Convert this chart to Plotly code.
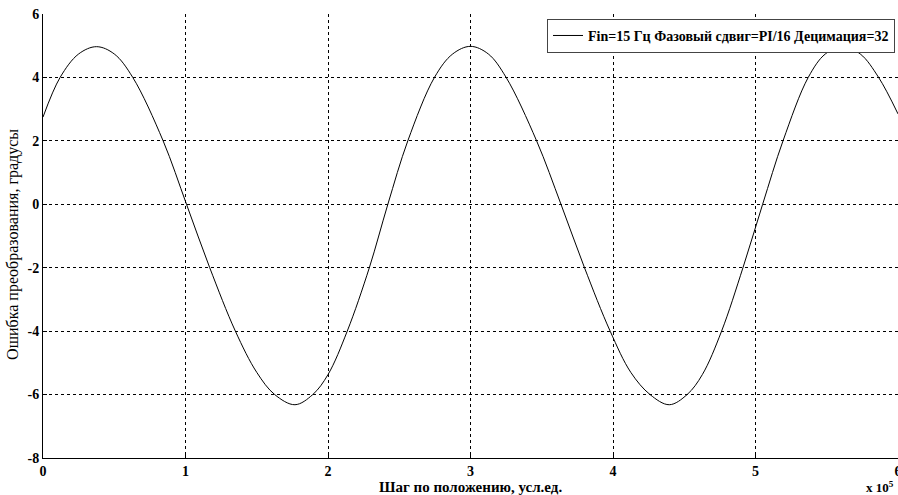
import plotly.graph_objects as go

# Data (x in units of 1e5)
x_vals = [0.0, 0.12, 0.25, 0.376, 0.5, 0.63, 0.843, 1.007, 1.17, 1.35, 1.5, 1.626, 1.768,
          1.893, 2.0, 2.135, 2.29, 2.42, 2.56, 2.747, 2.875, 3.0, 3.125, 3.25, 3.464,
          3.635, 3.80, 3.98, 4.125, 4.26, 4.395, 4.52, 4.627, 4.762, 4.912, 5.05,
          5.193, 5.37, 5.49, 5.61, 5.735, 5.864, 6.0]
y_vals = [2.75, 4.0, 4.74, 4.97, 4.74, 4.0, 2.0, 0.0, -2.0, -4.0, -5.3, -6.0, -6.32,
          -6.0, -5.37, -4.0, -2.0, 0.0, 2.0, 4.0, 4.74, 4.98, 4.74, 4.0, 2.0,
          0.0, -2.0, -4.0, -5.3, -6.0, -6.32, -6.0, -5.37, -4.0, -2.0, 0.0,
          2.0, 4.0, 4.74, 4.97, 4.74, 4.0, 2.85]

series_name = "Fin=15 Гц Фазовый сдвиг=PI/16 Децимация=32"
x_ticks = [0, 1, 2, 3, 4, 5, 6]
x_tick_labels = ["0", "1", "2", "3", "4", "5", "6"]
y_ticks = [-8, -6, -4, -2, 0, 2, 4, 6]
y_tick_labels = ["-8", "-6", "-4", "-2", "0", "2", "4", "6"]
x_title = "Шаг по положению, усл.ед."
y_title = "Ошибка преобразования, градусы"
x_exponent = "x 10<sup>5</sup>"

FONT = "Liberation Serif"

fig = go.Figure()
fig.add_trace(go.Scatter(
    x=x_vals, y=y_vals, mode="lines", name=series_name,
    line=dict(color="black", width=1, shape="spline", smoothing=1.0),
))

axis_common = dict(
    showgrid=True, gridcolor="black", gridwidth=1, griddash="3px,3px",
    showline=True, linecolor="black", linewidth=1,
    ticks="inside", ticklen=4, tickcolor="black",
    zeroline=False, mirror=False, automargin=False,
    tickfont=dict(family=FONT, size=14, color="black", weight="bold"),
)

fig.update_xaxes(range=[0, 6], tickvals=x_ticks, ticktext=x_tick_labels,
                 ticklabeloverflow="allow", **axis_common)
fig.update_yaxes(range=[-8, 6], tickvals=y_ticks, ticktext=y_tick_labels,
                 ticklabeloverflow="allow", **axis_common)

fig.update_layout(
    width=898, height=495,
    margin=dict(l=43, r=0, t=14, b=37, autoexpand=False),
    paper_bgcolor="white", plot_bgcolor="white",
    showlegend=True,
    legend=dict(
        x=0.9965, xanchor="right", y=0.989, yanchor="top",
        bgcolor="white", bordercolor="#444", borderwidth=1,
        font=dict(family=FONT, size=14, color="black", weight="bold"),
        itemwidth=30, tracegroupgap=0,
    ),
    annotations=[
        dict(text=x_title, xref="paper", yref="paper", x=0.5, y=0,
             xanchor="center", yanchor="middle", yshift=-29, showarrow=False,
             font=dict(family=FONT, size=15, color="black", weight="bold")),
        dict(text=y_title, xref="paper", yref="paper", x=0, y=0.48,
             xanchor="center", yanchor="middle", xshift=-30, textangle=-90,
             showarrow=False,
             font=dict(family=FONT, size=16, color="black")),
        dict(text=x_exponent, xref="paper", yref="paper", x=1, y=0,
             xanchor="right", yanchor="middle", yshift=-29, xshift=-2,
             showarrow=False,
             font=dict(family=FONT, size=13, color="black", weight="bold")),
    ],
)

fig.write_html("out.html")
